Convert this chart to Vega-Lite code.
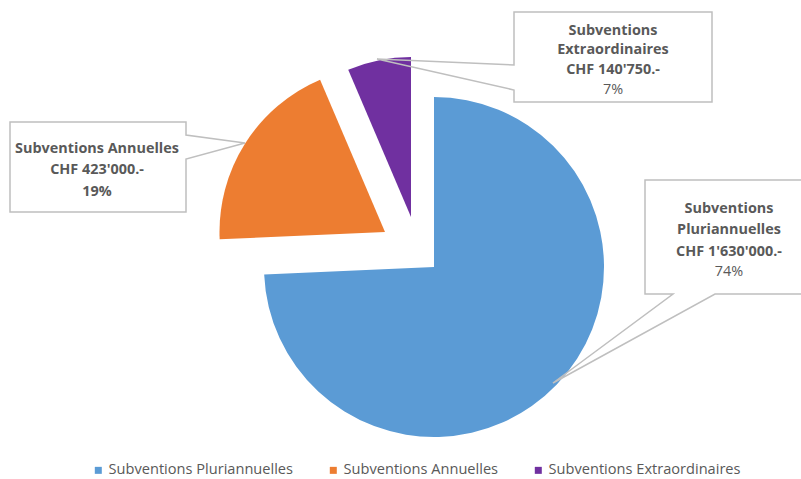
{
  "$schema": "https://vega.github.io/schema/vega-lite/v6.json",
  "width": 734,
  "height": 424,
  "autosize": "none",
  "padding": {"left": 67, "top": 55, "right": 0, "bottom": 0},
  "background": "white",
  "config": {"view": {"stroke": null}, "font": "Open Sans"},
  "data": {
    "values": [
      {"category": "Subventions Pluriannuelles", "value": 1630000, "label": ["Subventions", "Pluriannuelles", "CHF 1'630'000.-"], "pct": "74%"},
      {"category": "Subventions Annuelles", "value": 423000, "label": ["Subventions Annuelles", "CHF 423'000.-"], "pct": "19%"},
      {"category": "Subventions Extraordinaires", "value": 140750, "label": ["Subventions", "Extraordinaires", "CHF 140'750.-"], "pct": "7%"}
    ]
  },
  "transform": [
    {"stack": "value", "groupby": [], "sort": [{"field": "value", "order": "descending"}], "as": ["v0", "v1"]}
  ],
  "layer": [
    {
      "transform": [{"filter": "datum.category === 'Subventions Pluriannuelles'"}],
      "mark": {"type": "arc", "radius": 170},
      "encoding": {
        "theta": {"field": "v1", "type": "quantitative", "scale": {"zero": true}},
        "theta2": {"field": "v0"},
        "color": {
          "field": "category", "type": "nominal",
          "scale": {"domain": ["Subventions Pluriannuelles", "Subventions Annuelles", "Subventions Extraordinaires"], "range": ["#5B9BD5", "#ED7D31", "#7030A0"]},
          "legend": {
            "title": null, "orient": "none", "direction": "horizontal", "legendX": 24, "legendY": 408,
            "symbolType": "square", "symbolSize": 49, "symbolStrokeWidth": 0,
            "labelFont": "Open Sans", "labelFontSize": 14.6, "labelColor": "#595959",
            "labelOffset": 3, "columnPadding": 32, "labelLimit": 400
          }
        }
      }
    },
    {
      "transform": [{"filter": "datum.category === 'Subventions Annuelles'"}],
      "mark": {"type": "arc", "radius": 165.5, "xOffset": -49, "yOffset": -35},
      "encoding": {
        "theta": {"field": "v1", "type": "quantitative"},
        "theta2": {"field": "v0"},
        "color": {"field": "category", "type": "nominal"}
      }
    },
    {
      "transform": [{"filter": "datum.category === 'Subventions Extraordinaires'"}],
      "mark": {"type": "arc", "radius": 160, "xOffset": -23, "yOffset": -50},
      "encoding": {
        "theta": {"field": "v1", "type": "quantitative"},
        "theta2": {"field": "v0"},
        "color": {"field": "category", "type": "nominal"}
      }
    },
    {
      "transform": [{"filter": "datum.category === 'Subventions Pluriannuelles'"}],
      "mark": {"type": "point", "shape": "M211,-87H371V27H281L119,116L239,27H211Z", "size": 4, "filled": false, "stroke": "#BFBFBF", "strokeWidth": 1.5, "opacity": 1},
      "encoding": {}
    },
    {
      "transform": [{"filter": "datum.category === 'Subventions Annuelles'"}],
      "mark": {"type": "point", "shape": "M-424,-145H-248V-132L-189,-124L-248,-108V-55H-424Z", "size": 4, "filled": false, "stroke": "#BFBFBF", "strokeWidth": 1.5, "opacity": 1},
      "encoding": {}
    },
    {
      "transform": [{"filter": "datum.category === 'Subventions Extraordinaires'"}],
      "mark": {"type": "point", "shape": "M80,-255H278V-165H80V-177L-57,-208L80,-202Z", "size": 4, "filled": false, "stroke": "#BFBFBF", "strokeWidth": 1.5, "opacity": 1},
      "encoding": {}
    },
    {
      "transform": [{"filter": "datum.category === 'Subventions Pluriannuelles'"}],
      "mark": {"type": "text", "font": "Open Sans", "fontSize": 14.4, "fontWeight": "bold", "color": "#595959", "align": "center", "baseline": "top", "lineHeight": 21.3, "dx": 295, "dy": -65},
      "encoding": {"text": {"field": "label", "type": "nominal"}}
    },
    {
      "transform": [{"filter": "datum.category === 'Subventions Pluriannuelles'"}],
      "mark": {"type": "text", "font": "Open Sans", "fontSize": 14.4, "fontWeight": "normal", "color": "#595959", "align": "center", "baseline": "alphabetic", "dx": 295, "dy": 9},
      "encoding": {"text": {"field": "pct", "type": "nominal"}}
    },
    {
      "transform": [{"filter": "datum.category === 'Subventions Annuelles'"}],
      "mark": {"type": "text", "font": "Open Sans", "fontSize": 14.4, "fontWeight": "bold", "color": "#595959", "align": "center", "baseline": "top", "lineHeight": 21.5, "dx": -337, "dy": -125.5},
      "encoding": {"text": {"field": "label", "type": "nominal"}}
    },
    {
      "transform": [{"filter": "datum.category === 'Subventions Annuelles'"}],
      "mark": {"type": "text", "font": "Open Sans", "fontSize": 14.4, "fontWeight": "bold", "color": "#595959", "align": "center", "baseline": "alphabetic", "dx": -337, "dy": -71.5},
      "encoding": {"text": {"field": "pct", "type": "nominal"}}
    },
    {
      "transform": [{"filter": "datum.category === 'Subventions Extraordinaires'"}],
      "mark": {"type": "text", "font": "Open Sans", "fontSize": 14.4, "fontWeight": "bold", "color": "#595959", "align": "center", "baseline": "top", "lineHeight": 19.7, "dx": 179, "dy": -243.5},
      "encoding": {"text": {"field": "label", "type": "nominal"}}
    },
    {
      "transform": [{"filter": "datum.category === 'Subventions Extraordinaires'"}],
      "mark": {"type": "text", "font": "Open Sans", "fontSize": 14.4, "fontWeight": "normal", "color": "#595959", "align": "center", "baseline": "alphabetic", "dx": 179, "dy": -173.5},
      "encoding": {"text": {"field": "pct", "type": "nominal"}}
    }
  ]
}
